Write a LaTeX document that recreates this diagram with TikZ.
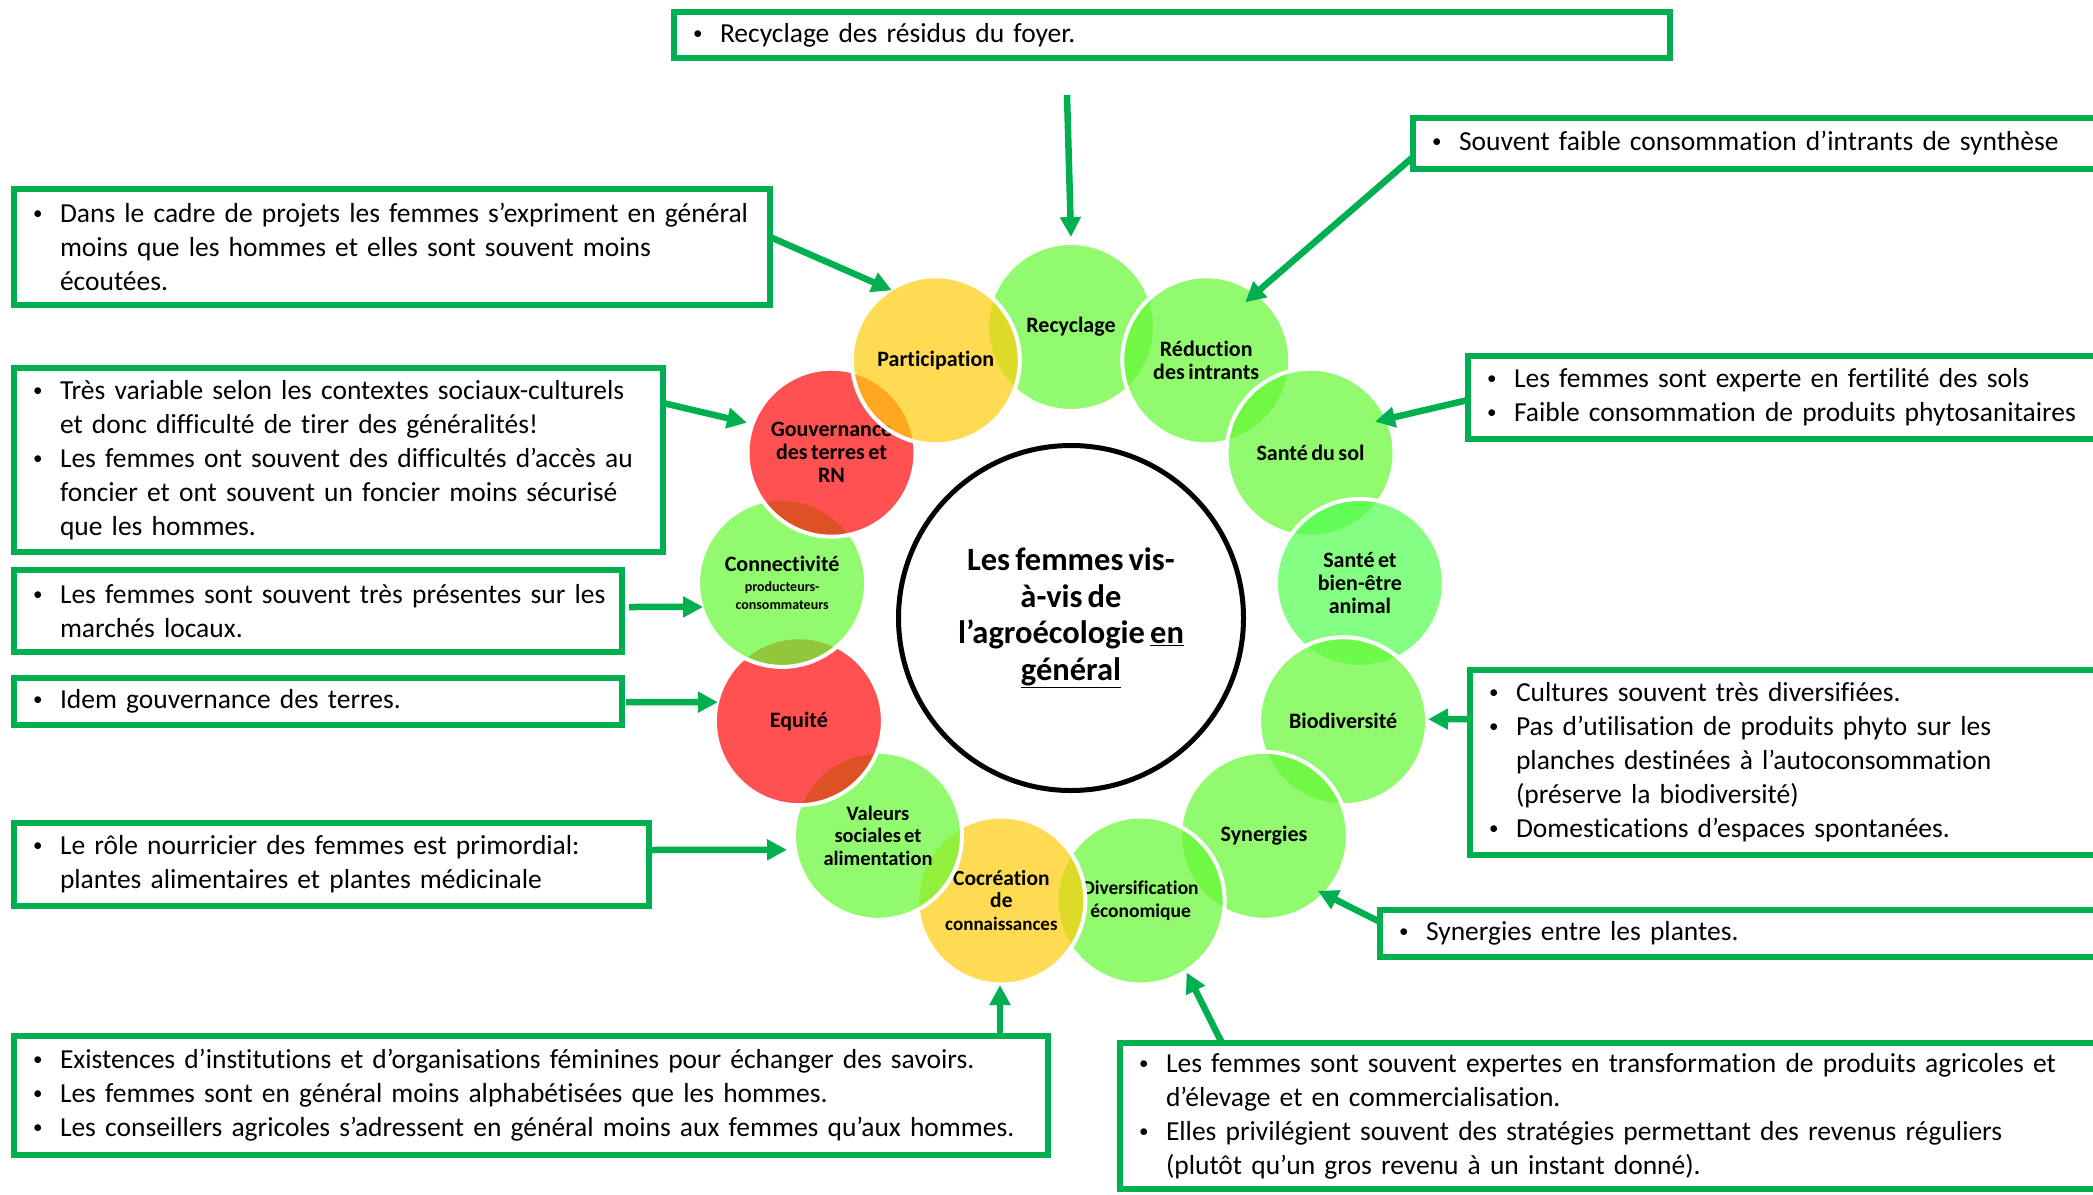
\documentclass[tikz,border=0pt]{standalone}
\usepackage{fontspec}
\setmainfont{Carlito}[WordSpace=0.7, Ligatures=NoCommon]
\usetikzlibrary{arrows.meta}
\definecolor{bgreen}{RGB}{0,176,80}
\definecolor{cgreen}{RGB}{100,248,50}
\definecolor{cred}{RGB}{255,8,8}
\definecolor{cyellow}{RGB}{255,205,10}
\definecolor{canimal}{RGB}{80,255,80}
\newcommand\Bul[1]{\mbox{\makebox[27pt][l]{\raisebox{3pt}{\fontsize{19}{19}\selectfont\textbullet}}#1}}
\newcommand\Con[1]{\mbox{\hspace*{27pt}#1}}
\begin{document}
\begin{tikzpicture}[x=1pt,y=-1pt,
  notebox/.style={draw=bgreen, line width=6.5pt, rectangle, anchor=north west, outer sep=0pt,
    inner xsep=19pt, inner ysep=0pt, align=left, font=\fontsize{27.5}{34}\selectfont, text=black},
  arr/.style={draw=bgreen, line width=6.5pt, -{Triangle[length=20pt,width=20pt]}},
  petal/.style={circle, draw=white, line width=4pt, minimum size=168pt, inner sep=0pt,
    fill opacity=0.7, text opacity=1, draw opacity=1,
    font=\fontsize{22}{23}\selectfont\bfseries, align=center},
]
\useasboundingbox (0,0) rectangle (2093,1194);
\clip (0,0) rectangle (2093,1194);
\fill[white] (0,0) rectangle (2093,1194);

% ---- boxes ----
\node[notebox, minimum width=996pt, minimum height=46pt, text width=958pt] (b1) at (674,12)
  {\Bul{Recyclage des résidus du foyer.}};
\node[notebox, minimum width=787pt, minimum height=51pt, text width=749pt] (b2) at (1413,118)
  {\Bul{Souvent faible consommation d’intrants de synthèse}};
\node[notebox, minimum width=756pt, minimum height=116pt, text width=718pt] (b3) at (14,189)
  {\Bul{Dans le cadre de projets les femmes s’expriment en général}\\
   \Con{moins que les hommes et elles sont souvent moins}\\
   \Con{écoutées.}};
\node[notebox, minimum width=649pt, minimum height=184pt, text width=611pt] (b4) at (14,368)
  {\Bul{Très variable selon les contextes sociaux-culturels}\\
   \Con{et donc difficulté de tirer des généralités!}\\
   \Bul{Les femmes ont souvent des difficultés d’accès au}\\
   \Con{foncier et ont souvent un foncier moins sécurisé}\\
   \Con{que les hommes.}};
\node[notebox, minimum width=608pt, minimum height=82pt, text width=570pt] (b5) at (14,570)
  {\Bul{Les femmes sont souvent très présentes sur les}\\
   \Con{marchés locaux.}};
\node[notebox, minimum width=608pt, minimum height=47pt, text width=570pt] (b6) at (14,678)
  {\Bul{Idem gouvernance des terres.}};
\node[notebox, minimum width=635pt, minimum height=83pt, text width=597pt] (b7) at (14,823)
  {\Bul{Le rôle nourricier des femmes est primordial:}\\
   \Con{plantes alimentaires et plantes médicinale}};
\node[notebox, minimum width=1034pt, minimum height=119pt, text width=996pt] (b8) at (14,1036)
  {\Bul{Existences d’institutions et d’organisations féminines pour échanger des savoirs.}\\
   \Bul{Les femmes sont en général moins alphabétisées que les hommes.}\\
   \Bul{Les conseillers agricoles s’adressent en général moins aux femmes qu’aux hommes.}};
\node[notebox, minimum width=732pt, minimum height=83pt, text width=694pt] (b9) at (1468,356)
  {\Bul{Les femmes sont experte en fertilité des sols}\\
   \Bul{Faible consommation de produits phytosanitaires}};
\node[notebox, minimum width=730pt, minimum height=185pt, text width=692pt] (b10) at (1470,670)
  {\Bul{Cultures souvent très diversifiées.}\\
   \Bul{Pas d’utilisation de produits phyto sur les}\\
   \Con{planches destinées à l’autoconsommation}\\
   \Con{(préserve la biodiversité)}\\
   \Bul{Domestications d’espaces spontanées.}};
\node[notebox, minimum width=820pt, minimum height=47pt, text width=782pt] (b11) at (1380,910)
  {\Bul{Synergies entre les plantes.}};
\node[notebox, minimum width=1080pt, minimum height=146pt, text width=1042pt] (b12) at (1120,1043)
  {\Bul{Les femmes sont souvent expertes en transformation de produits agricoles et}\\
   \Con{d’élevage et en commercialisation.}\\
   \Bul{Elles privilégient souvent des stratégies permettant des revenus réguliers}\\
   \Con{(plutôt qu’un gros revenu à un instant donné).}};

% ---- centre ----
\node[circle, draw=black, line width=5pt, fill=white, minimum size=345pt, inner sep=0pt,
  align=center, font=\fontsize{32.5}{36.5}\selectfont\bfseries] (ctr) at (1071,618)
  {Les femmes vis-\\à-vis de\\l’agroécologie \underline{en}\\\underline{général}};

% ---- petals ----
\node[petal, fill=cgreen] (c0) at (1071,327) {Recyclage};
\node[petal, fill=cgreen] (c1) at (1206.2,360.3) {Réduction\\des intrants};
\node[petal, fill=cgreen] (c2) at (1310.5,452.7) {Santé du sol};
\node[petal, fill=canimal] (c3) at (1359.9,582.9) {Santé et\\bien-être\\animal};
\node[petal, fill=cgreen] (c4) at (1343.1,721.2) {Biodiversité};
\node[petal, fill=cgreen] (c5) at (1264.0,835.8) {Synergies};
\node[petal, fill=cgreen, font=\fontsize{19.5}{22.7}\selectfont\bfseries] (c6) at (1140.6,900.5) {Diversification\\économique};
\node[petal, fill=cyellow, font=\fontsize{21.5}{22.7}\selectfont\bfseries] (c7) at (1001.4,900.5)
  {Cocréation\\de\\{\fontsize{19}{22.7}\selectfont connaissances}};
\node[petal, fill=cgreen, font=\fontsize{20.5}{22.7}\selectfont\bfseries] (c8) at (878.0,835.8) {Valeurs\\sociales et\\alimentation};
\node[petal, fill=cred] (c9) at (798.9,721.2) {Equité};
\node[petal, fill=cgreen] (c10) at (782.1,582.9)
  {Connectivité\\[-3pt]{\fontsize{14}{17}\selectfont producteurs-}\\[-5pt]{\fontsize{14}{17}\selectfont consommateurs}};
\node[petal, fill=cred] (c11) at (831.5,452.7) {Gouvernance\\des terres et\\RN};
\node[petal, fill=cyellow] (c12) at (935.8,360.3) {Participation};

% ---- arrows ----
\coordinate (a1s) at (1067,95);
\draw[arr] (a1s) -- ([shift={(0,-90)}]c0.center);
\draw[arr] ([shift={(0,13.5)}]b2.west) -- ([shift={(39,-58)}]c1.center);
\draw[arr] ([shift={(0,-10)}]b3.east) -- ([shift={(-44,-70)}]c12.center);
\draw[arr] ([shift={(0,-57)}]b4.east) -- ([shift={(-84.5,-30)}]c11.center);
\draw[arr] ([shift={(7,-4)}]b5.east) -- ([shift={(-79,24)}]c10.center);
\draw[arr] ([shift={(4,0.5)}]b6.east) -- ([shift={(-81,-19)}]c9.center);
\draw[arr] ([shift={(-3,-14.5)}]b7.east) -- ([shift={(-91,14)}]c8.center);
\draw[arr] ([shift={(469,0)}]b8.north) -- ([shift={(-1.4,84.5)}]c7.center);
\draw[arr] ([shift={(102,0)}]b12.north west) -- ([shift={(46,72)}]c6.center);
\draw[arr] ([shift={(0,-11.5)}]b11.west) -- ([shift={(54,55)}]c5.center);
\draw[arr] ([shift={(0,-43.5)}]b10.west) -- ([shift={(85,-2)}]c4.center);
\draw[arr] ([shift={(0,2.5)}]b9.west) -- ([shift={(64.5,-31)}]c2.center);
\end{tikzpicture}
\end{document}
